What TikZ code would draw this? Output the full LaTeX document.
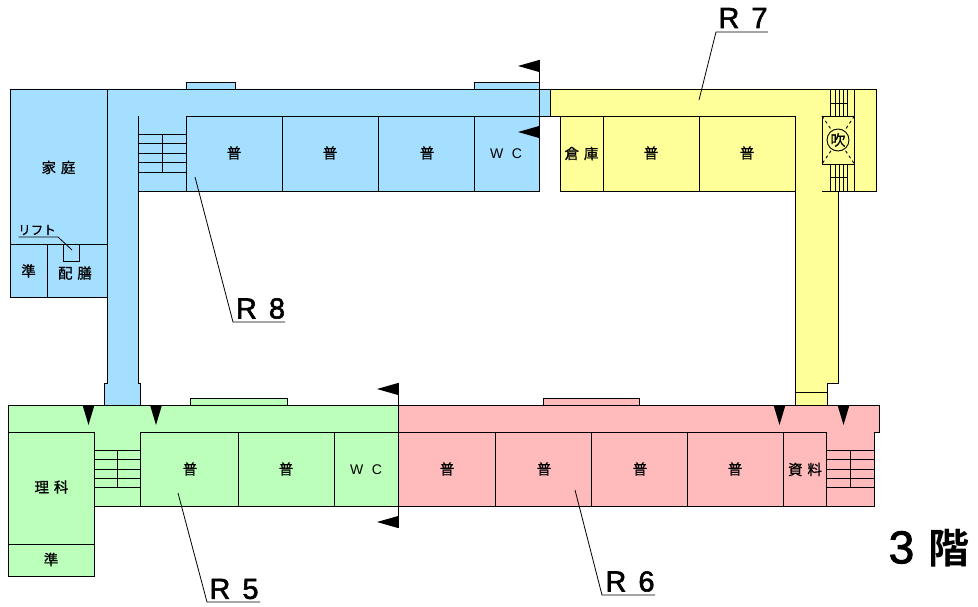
\documentclass[tikz,border=0pt]{standalone}
\usepackage{fontspec}
\setmainfont{Liberation Sans}
\newfontfamily\jpfont[WordSpace=1.5,FakeBold=0.8]{Noto Sans CJK JP}
\newfontfamily\jpboldfont{Noto Sans CJK JP Bold}
\newfontfamily\wcfont[WordSpace=2.2]{Liberation Sans}
\newfontfamily\routefont[WordSpace=1.5,FakeBold=2]{Liberation Sans}
\definecolor{roomblue}{HTML}{A5DFFF}
\definecolor{roomyellow}{HTML}{FFFF99}
\definecolor{roomgreen}{HTML}{BBFFBB}
\definecolor{roompink}{HTML}{FFBBBB}
\tikzset{
  wall/.style={draw=black,line width=0.9pt,line join=miter},
  room/.style={font=\jpfont\fontsize{14.5}{14.5}\selectfont,inner sep=0pt},
  wclabel/.style={font=\wcfont\fontsize{14}{14}\selectfont,inner sep=0pt},
  routelabel/.style={font=\routefont\fontsize{29}{29}\selectfont,inner sep=0pt},
  leader/.style={draw=black,line width=0.8pt},
  marker/.style={fill=black,draw=none}
}
\begin{document}
\begin{tikzpicture}[x=1pt,y=-1pt]
  \useasboundingbox (0,0) rectangle (978,607);
  % blue wing
  \filldraw[wall,fill=roomblue] (186,82) rectangle (235,89);
  \filldraw[wall,fill=roomblue] (474,82) rectangle (539,89);
  \filldraw[wall,fill=roomblue] (10,89) -- (550,89) -- (550,116) -- (539,116) -- (539,191) -- (138,191)
    -- (138,383) -- (140,383) -- (140,405) -- (104.5,405) -- (104.5,383) -- (107,383) -- (107,297) -- (10,297) -- cycle;
  \draw[wall] (107,89) -- (107,297);
  \draw[wall] (138,116) -- (138,191);
  \draw[wall] (539,116) -- (186,116) -- (186,191);
  \foreach \x in {282,378,474} \draw[wall] (\x,116) -- (\x,191);
  \foreach \y in {134,143.5,153,162.5,172} \draw[wall] (138,\y) -- (186,\y);
  \draw[wall] (162,134) -- (162,172);
  \draw[wall] (10,244) -- (107,244);
  \draw[wall] (47,244) -- (47,297);
  \draw[wall] (63.5,244) rectangle (79.5,261.5);
  % yellow wing
  \filldraw[wall,fill=roomyellow] (550,89) -- (876.5,89) -- (876.5,191) -- (838,191) -- (838,383) -- (827,383)
    -- (827,405) -- (795.5,405) -- (795.5,191) -- (560,191) -- (560,116) -- (550,116) -- cycle;
  \draw[wall] (560,116) -- (795.5,116) -- (795.5,191);
  \foreach \x in {603,699} \draw[wall] (\x,116) -- (\x,191);
  \draw[wall] (795.5,392) -- (827,392);
  \draw[wall] (854.5,89) -- (854.5,191);
  \draw[wall] (822,191) -- (838,191);
  \foreach \x in {830,835,839,843,847} {
    \draw[wall] (\x,89) -- (\x,116);
    \draw[wall] (\x,164) -- (\x,191);
  }
  \draw[wall] (830,103) -- (847,103);
  \draw[wall] (830,177) -- (847,177);
  \draw[wall] (822,116) rectangle (854.5,164);
  \draw[wall,dashed] (822,116) -- (854.5,164);
  \draw[wall,dashed] (854.5,116) -- (822,164);
  \filldraw[wall,fill=roomyellow] (838,140) circle (11);
  % green wing
  \filldraw[wall,fill=roomgreen] (190,398) rectangle (287,405);
  \filldraw[wall,fill=roomgreen] (8,405) -- (398,405) -- (398,506) -- (94,506) -- (94,576) -- (8,576) -- cycle;
  \draw[wall] (8,432) -- (94,432) -- (94,506);
  \draw[wall] (8,544) -- (94,544);
  \draw[wall] (140,506) -- (140,432) -- (398,432);
  \foreach \x in {238,334} \draw[wall] (\x,432) -- (\x,506);
  \foreach \y in {450,459.5,469,478,487.5} \draw[wall] (94,\y) -- (140,\y);
  \draw[wall] (117,450) -- (117,487.5);
  % pink wing
  \filldraw[wall,fill=roompink] (543,398) rectangle (639,405);
  \filldraw[wall,fill=roompink] (398,405) -- (879,405) -- (879,432) -- (874,432) -- (874,506) -- (398,506) -- cycle;
  \draw[wall] (398,432) -- (826,432) -- (826,506);
  \foreach \x in {495,591,687,783} \draw[wall] (\x,432) -- (\x,506);
  \foreach \y in {450,459.5,469,478,487.5} \draw[wall] (826,\y) -- (874,\y);
  \draw[wall] (850,450) -- (850,487.5);
  % section marks
  \draw[wall] (539,60) -- (539,191);
  \draw[wall] (398,383) -- (398,528);
  \foreach \x/\y in {539/66,539/132,398/389,398/522}
    \fill[marker] (\x,\y-6) -- (\x-21,\y) -- (\x,\y+6) -- cycle;
  \foreach \x in {88.5,156,779.5,843.5}
    \fill[marker] (\x-6,405) -- (\x+6,405) -- (\x,425) -- cycle;
  % room names
  \foreach \x/\y/\n in {234/153/a,330/153/b,427/153/c,651/153/d,747/153/e,190/469/f,286/469/g,447/469/h,544/469/i,640/469/j,735/469/k}
    \node[room] (fu\n) at (\x,\y) {普};
  \node[room] (katei) at (58.5,167.5) {家 庭};
  \node[room] (jun1) at (28.5,271) {準};
  \node[room] (haizen) at (75,273) {配 膳};
  \node[room] (souko) at (581.5,153.5) {倉 庫};
  \node[room] (shiryou) at (805,469.5) {資 料};
  \node[room] (rika) at (51.5,487) {理 科};
  \node[room] (jun2) at (51,559.5) {準};
  \node[wclabel] (wca) at (506,153.5) {W C};
  \node[wclabel] (wcb) at (366,469.5) {W C};
  \node[room,font=\jpfont\fontsize{15}{15}\selectfont] (fuki) at (838,140) {吹};
  \node[room,font=\jpfont\fontsize{12.5}{12.5}\selectfont] (lift) at (37,230) {リフト};
  % route labels with leaders
  \node[routelabel] (r7) at (743,18) {R 7};
  \node[routelabel] (r8) at (260.5,308.5) {R 8};
  \node[routelabel] (r5) at (234,589) {R 5};
  \node[routelabel] (r6) at (630,581.5) {R 6};
  \coordinate (r7a) at (768,32); \coordinate (r7b) at (716,32); \coordinate (r7c) at (699,100);
  \coordinate (r8a) at (285,322); \coordinate (r8b) at (233,322); \coordinate (r8c) at (195,177);
  \coordinate (r5a) at (260,602); \coordinate (r5b) at (207,602); \coordinate (r5c) at (178,493);
  \coordinate (r6a) at (655,595); \coordinate (r6b) at (602,595); \coordinate (r6c) at (575,490);
  \coordinate (lifta) at (18.5,237); \coordinate (liftb) at (58,237); \coordinate (liftc) at (72,250);
  \foreach \k in {r7,r8,r5,r6,lift} \draw[leader] (\k a) -- (\k b) -- (\k c);
  \node[inner sep=0pt,anchor=west,font=\routefont\fontsize{46}{46}\selectfont] (floor) at (888.5,548) {3\hspace{14pt}{\jpboldfont\fontsize{41}{41}\selectfont 階}};
\end{tikzpicture}
\end{document}
